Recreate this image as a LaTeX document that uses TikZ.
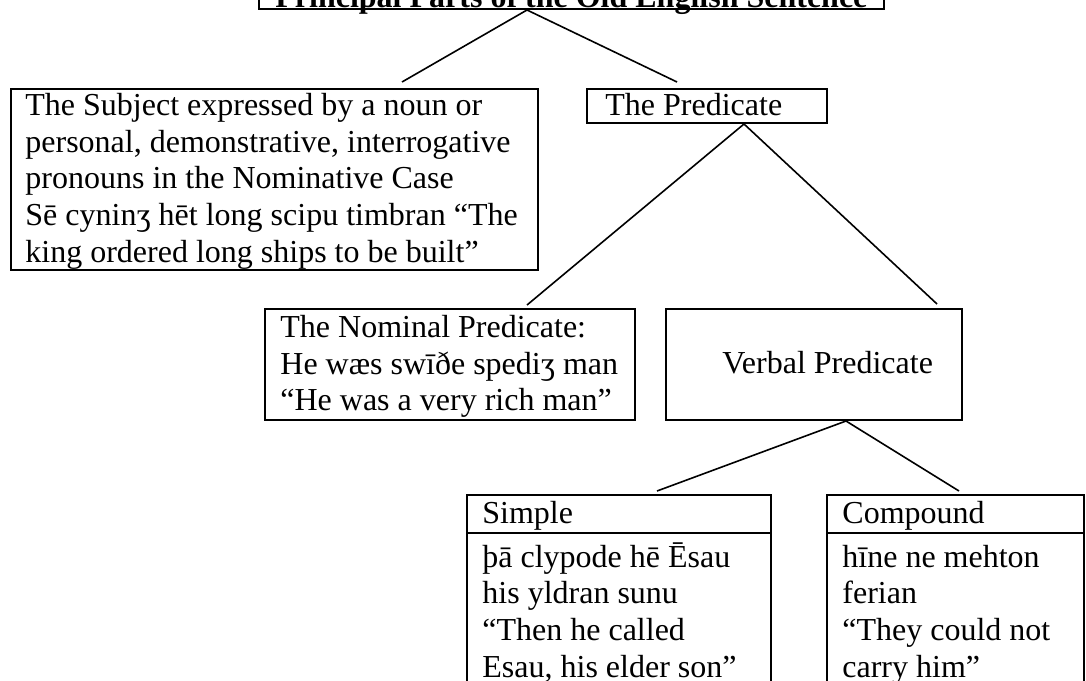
\documentclass[tikz,border=0pt]{standalone}
\usepackage{fontspec}
\setmainfont{Liberation Serif}
\usetikzlibrary{fit,calc}
\begin{document}
\begin{tikzpicture}[x=0.5pt,y=-0.5pt,
  box/.style={draw, line width=1pt, inner sep=0pt},
  txt/.style={anchor=north west, inner sep=0pt, align=left, font=\fontsize{16}{18.35}\selectfont},
  link/.style={line width=0.8pt}]
\useasboundingbox (0,0) rectangle (1086,680);
\clip (0,0) rectangle (1086,680);
% boxes
\node[box, fit={(259,-40) (884,9)}] (title) {};
\node[box, fit={(11,89) (538,270)}] (subj) {};
\node[box, fit={(587,89) (827,123)}] (pred) {};
\node[box, fit={(265,309) (635,420)}] (nom) {};
\node[box, fit={(666,309) (962,420)}] (verb) {};
\node[box, fit={(467,495) (771,533)}] (simpH) {};
\node[box, fit={(467,533) (771,720)}] (simpB) {};
\node[box, fit={(827,495) (1084,533)}] (compH) {};
\node[box, fit={(827,533) (1084,720)}] (compB) {};
% texts
\node[txt, anchor=base west, font=\fontsize{16}{18.35}\selectfont\bfseries] (ttl) at (275,8) {Principal Parts of the Old English Sentence};
\node[txt] (subjT) at (25,89.3) {\strut The Subject expressed by a noun or\\personal, demonstrative, interrogative\\pronouns in the Nominative Case\\Sē cyninʒ hēt long scipu timbran “The\\king ordered long ships to be built”};
\node[txt] (predT) at (605,89.3) {\strut The Predicate};
\node[txt] (nomT) at (280,311.3) {\strut The Nominal Predicate:\\He wæs swīðe spediʒ man\\“He was a very rich man”};
\node[txt] (verbT) at (722,347.3) {\strut Verbal Predicate};
\node[txt] (simpT) at (482,497.3) {\strut Simple};
\node[txt] (simpX) at (482,541) {\strut þā clypode hē Ēsau\\his yldran sunu\\“Then he called\\Esau, his elder son”};
\node[txt] (compT) at (842,497.3) {\strut Compound};
\node[txt] (compX) at (842,541) {\strut hīne ne mehton\\ferian\\“They could not\\carry him”};
% connectors
\draw[link] ($(subj.north west)+(392,-6)$) -- ($(title.south west)+(269,0)$) -- ($(pred.north west)+(91,-6)$);
\draw[link] ($(nom.north west)+(263,-3)$) -- ($(pred.south west)+(158,0)$) -- ($(verb.north west)+(272,-4)$);
\draw[link] ($(simpH.north west)+(191,-3)$) -- ($(verb.south west)+(181,0)$) -- ($(compH.north west)+(133,-3)$);
\end{tikzpicture}
\end{document}
